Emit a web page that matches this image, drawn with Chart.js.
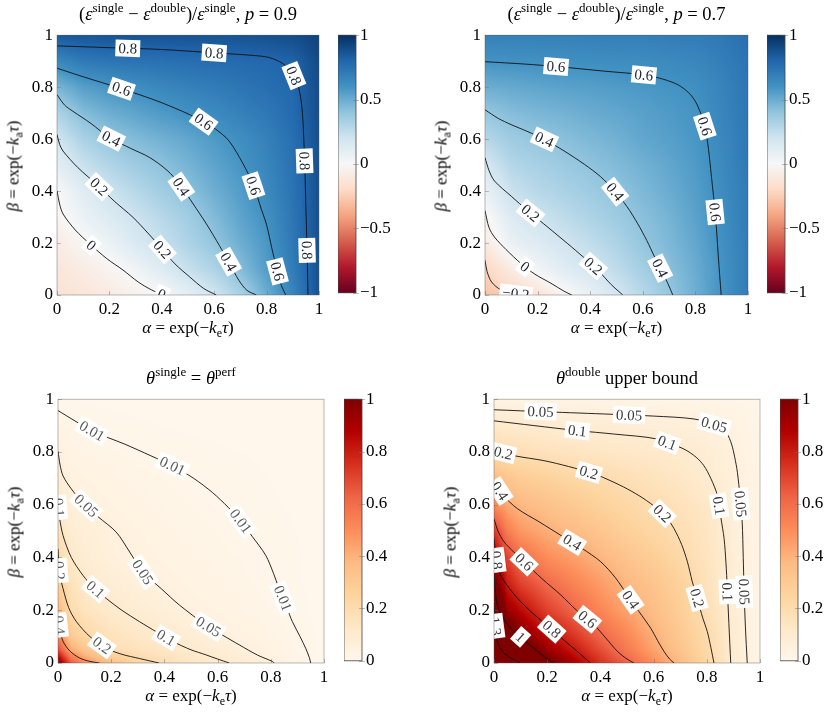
<!DOCTYPE html>
<html><head><meta charset="utf-8">
<script src="https://cdn.jsdelivr.net/npm/chart.js@4.4.1/dist/chart.umd.min.js"></script>
<style>
html,body{margin:0;padding:0;background:#fff;}
#wrap{position:relative;width:830px;height:713px;overflow:hidden;font-family:'Liberation Serif',serif;color:#000;}
canvas{position:absolute;}
.t{position:absolute;white-space:nowrap;font-size:17px;line-height:1;transform:translate(-50%,-50%);}
.t sup{font-size:12px;vertical-align:0;position:relative;top:-7px;}
.t sub{font-size:12px;vertical-align:0;position:relative;top:4px;}
.ttl{font-size:18.5px;}
.ttl sup{font-size:13px;top:-8px;}
.rot{transform:translate(-50%,-50%) rotate(-90deg);}
</style></head>
<body><div id="wrap"></div>
<script>
// ---------------- DATA ----------------
const axisTicks = [0, 0.2, 0.4, 0.6, 0.8, 1];
const diffBarTicks = [-1, -0.5, 0, 0.5, 1];
const thetaBarTicks = [0, 0.2, 0.4, 0.6, 0.8, 1];

// grid nodes (alpha columns, beta rows)
const nodesUniform = [0, 0.1, 0.2, 0.3, 0.4, 0.5, 0.6, 0.7, 0.8, 0.9, 1];
const nodesFine = [0, 0.05, 0.1, 0.2, 0.3, 0.4, 0.5, 0.6, 0.7, 0.8, 0.9, 1];

// Panel A: (eps_single - eps_double)/eps_single, p = 0.9 ; rows = beta (0 -> 1)
const valuesA = [
  [-0.15,-0.12,-0.09,-0.05,-0.005,0.09,0.19,0.32,0.49,0.66,0.88],
  [-0.12,-0.08,-0.03,0.04,0.13,0.23,0.31,0.43,0.56,0.70,0.88],
  [-0.08,-0.015,0.06,0.15,0.23,0.31,0.39,0.49,0.58,0.72,0.88],
  [-0.03,0.06,0.14,0.21,0.28,0.35,0.44,0.53,0.61,0.73,0.88],
  [0.0,0.12,0.21,0.28,0.35,0.41,0.49,0.56,0.64,0.74,0.88],
  [0.10,0.22,0.30,0.36,0.41,0.47,0.53,0.59,0.66,0.75,0.88],
  [0.19,0.32,0.39,0.44,0.48,0.52,0.57,0.62,0.68,0.76,0.88],
  [0.31,0.43,0.49,0.53,0.57,0.605,0.64,0.68,0.72,0.78,0.89],
  [0.46,0.55,0.59,0.62,0.65,0.68,0.70,0.73,0.76,0.79,0.89],
  [0.65,0.71,0.73,0.74,0.75,0.76,0.77,0.78,0.79,0.81,0.90],
  [0.85,0.86,0.87,0.87,0.87,0.87,0.87,0.87,0.88,0.89,0.93]
];
// Panel B: p = 0.7
const valuesB = [
  [-0.30,-0.23,-0.14,-0.03,0.07,0.175,0.28,0.385,0.49,0.60,0.70],
  [-0.22,-0.08,0.03,0.12,0.18,0.26,0.34,0.42,0.50,0.60,0.70],
  [-0.10,0.07,0.13,0.195,0.25,0.31,0.39,0.45,0.52,0.61,0.70],
  [-0.025,0.14,0.205,0.26,0.31,0.36,0.42,0.47,0.54,0.62,0.71],
  [0.07,0.22,0.28,0.32,0.36,0.40,0.45,0.50,0.555,0.63,0.71],
  [0.17,0.29,0.33,0.37,0.405,0.44,0.48,0.52,0.57,0.64,0.72],
  [0.28,0.36,0.39,0.42,0.45,0.48,0.52,0.55,0.585,0.65,0.72],
  [0.385,0.43,0.455,0.475,0.50,0.52,0.545,0.57,0.595,0.66,0.73],
  [0.49,0.51,0.525,0.54,0.55,0.565,0.58,0.595,0.615,0.67,0.73],
  [0.60,0.605,0.61,0.615,0.62,0.625,0.63,0.64,0.655,0.69,0.74],
  [0.68,0.68,0.68,0.68,0.69,0.69,0.69,0.70,0.70,0.72,0.76]
];
// Panel C: theta_single = theta_perf (nodesFine)
const valuesC = [
  [1.0,0.65,0.5,0.35,0.24,0.18,0.14,0.11,0.085,0.053,0.025,0.0],
  [0.7,0.42,0.33,0.195,0.16,0.13,0.102,0.08,0.055,0.035,0.015,0.0],
  [0.55,0.3,0.23,0.16,0.125,0.1,0.08,0.058,0.04,0.026,0.012,0.0],
  [0.38,0.2,0.15,0.108,0.085,0.065,0.048,0.035,0.025,0.015,0.007,0.0],
  [0.28,0.16,0.11,0.08,0.06,0.046,0.034,0.025,0.018,0.011,0.005,0.0],
  [0.22,0.12,0.085,0.055,0.047,0.035,0.026,0.019,0.014,0.0095,0.005,0.0],
  [0.165,0.085,0.07,0.052,0.038,0.028,0.02,0.015,0.0105,0.007,0.004,0.0],
  [0.11,0.065,0.05,0.038,0.029,0.021,0.015,0.011,0.008,0.005,0.003,0.0],
  [0.08,0.046,0.038,0.028,0.02,0.015,0.01,0.008,0.006,0.004,0.002,0.0],
  [0.05,0.03,0.024,0.017,0.0105,0.008,0.006,0.005,0.004,0.003,0.0015,0.0],
  [0.025,0.015,0.0097,0.007,0.005,0.004,0.003,0.0025,0.002,0.0015,0.001,0.0],
  [0.005,0.004,0.003,0.002,0.002,0.001,0.001,0.001,0.001,0.0,0.0,0.0]
];
// Panel D: theta_double upper bound (nodesFine)
const valuesD = [
  [1.8,1.5,1.3,1.06,0.9,0.75,0.63,0.5,0.37,0.24,0.09,0.02],
  [1.55,1.35,1.17,0.93,0.81,0.68,0.56,0.44,0.33,0.22,0.09,0.02],
  [1.45,1.2,1.0,0.85,0.74,0.62,0.52,0.41,0.31,0.21,0.088,0.02],
  [1.32,0.93,0.85,0.71,0.62,0.52,0.44,0.36,0.28,0.18,0.085,0.02],
  [1.08,0.80,0.71,0.61,0.53,0.46,0.385,0.33,0.26,0.16,0.08,0.02],
  [0.9,0.7,0.6,0.5,0.45,0.39,0.33,0.28,0.22,0.15,0.075,0.02],
  [0.74,0.55,0.47,0.41,0.37,0.32,0.27,0.23,0.185,0.14,0.07,0.02],
  [0.51,0.42,0.38,0.34,0.30,0.26,0.225,0.195,0.16,0.125,0.065,0.02],
  [0.37,0.32,0.29,0.26,0.23,0.205,0.18,0.155,0.13,0.095,0.06,0.02],
  [0.21,0.195,0.18,0.16,0.145,0.135,0.125,0.115,0.103,0.08,0.05,0.02],
  [0.115,0.108,0.103,0.095,0.088,0.082,0.077,0.072,0.065,0.056,0.04,0.015],
  [0.03,0.03,0.03,0.028,0.026,0.025,0.024,0.022,0.02,0.018,0.014,0.008]
];

// Contour lines [alpha, beta] and label anchors
const contA_080 = [[0,0.959],[0.2,0.952],[0.4,0.945],[0.6,0.932],[0.75,0.922],[0.81,0.914],[0.86,0.892],[0.9,0.855],[0.922,0.8],[0.935,0.72],[0.942,0.6],[0.947,0.45],[0.951,0.3],[0.955,0.15],[0.958,0]];
const labA_080 = [[0.27,0.946],[0.6,0.934],[0.905,0.845],[0.947,0.516],[0.953,0.172]];
const contA_060 = [[0,0.873],[0.1,0.84],[0.24,0.796],[0.4,0.74],[0.557,0.669],[0.646,0.605],[0.697,0.529],[0.748,0.427],[0.78,0.33],[0.8,0.27],[0.82,0.18],[0.837,0.108],[0.855,0.04],[0.873,0]];
const labA_060 = [[0.247,0.796],[0.561,0.669],[0.747,0.42],[0.838,0.09]];
const contA_040 = [[0,0.771],[0.03,0.73],[0.061,0.707],[0.13,0.66],[0.201,0.605],[0.28,0.565],[0.354,0.529],[0.42,0.48],[0.468,0.427],[0.52,0.35],[0.57,0.274],[0.62,0.19],[0.659,0.121],[0.695,0.055],[0.725,0.018],[0.761,0]];
const labA_040 = [[0.209,0.605],[0.47,0.414],[0.654,0.127]];
const contA_020 = [[0,0.618],[0.01,0.58],[0.023,0.554],[0.08,0.49],[0.15,0.427],[0.22,0.36],[0.29,0.299],[0.35,0.235],[0.405,0.172],[0.45,0.12],[0.506,0.07],[0.56,0.025],[0.608,0]];
const labA_020 = [[0.158,0.414],[0.40,0.173]];
const contA_000 = [[0,0.401],[0.01,0.35],[0.023,0.312],[0.07,0.25],[0.125,0.197],[0.19,0.14],[0.252,0.096],[0.31,0.05],[0.36,0.02],[0.405,0]];
const labA_000 = [[0.132,0.192],[0.40,0.004]];

const contB_060 = [[0,0.898],[0.15,0.889],[0.277,0.879],[0.45,0.862],[0.607,0.847],[0.68,0.83],[0.734,0.809],[0.775,0.778],[0.8,0.745],[0.82,0.7],[0.836,0.65],[0.85,0.56],[0.86,0.465],[0.869,0.38],[0.877,0.299],[0.887,0.15],[0.898,0]];
const labB_060 = [[0.27,0.878],[0.604,0.845],[0.836,0.65],[0.871,0.319]];
const contB_040 = [[0,0.713],[0.05,0.68],[0.099,0.656],[0.16,0.63],[0.226,0.599],[0.3,0.555],[0.378,0.503],[0.44,0.455],[0.492,0.401],[0.54,0.34],[0.581,0.274],[0.615,0.21],[0.645,0.146],[0.675,0.085],[0.695,0.045],[0.714,0]];
const labB_040 = [[0.226,0.599],[0.499,0.401],[0.66,0.1]];
const contB_020 = [[0,0.529],[0.015,0.48],[0.036,0.439],[0.1,0.38],[0.162,0.325],[0.24,0.26],[0.315,0.197],[0.375,0.145],[0.429,0.096],[0.48,0.04],[0.524,0]];
const labB_020 = [[0.175,0.318],[0.397,0.095]];
const contB_000 = [[0,0.325],[0.015,0.26],[0.036,0.223],[0.08,0.175],[0.137,0.121],[0.19,0.08],[0.251,0.045],[0.3,0.015],[0.33,0]];
const labB_000 = [[0.147,0.102]];
const contB_m020 = [[0,0.134],[0.008,0.09],[0.025,0.05],[0.06,0.02],[0.11,0.006],[0.16,0]];
const labB_m020 = [[0.118,0.01]];

const contC_001 = [[0,0.957],[0.06,0.92],[0.131,0.878],[0.25,0.83],[0.35,0.785],[0.431,0.747],[0.51,0.70],[0.581,0.646],[0.64,0.59],[0.681,0.546],[0.73,0.48],[0.781,0.408],[0.81,0.34],[0.831,0.282],[0.86,0.21],[0.881,0.157],[0.91,0.1],[0.931,0.056],[0.945,0.02],[0.95,0]];
const labC_001 = [[0.131,0.885],[0.431,0.749],[0.681,0.533],[0.844,0.245]];
const contC_005 = [[0,0.803],[0.008,0.75],[0.019,0.709],[0.05,0.66],[0.094,0.608],[0.15,0.555],[0.219,0.496],[0.27,0.42],[0.319,0.345],[0.39,0.28],[0.456,0.22],[0.556,0.144],[0.62,0.105],[0.681,0.069],[0.75,0.03],[0.806,0.006],[0.8125,0]];
const labC_005 = [[0.10,0.59],[0.319,0.345],[0.5625,0.132]];
const contC_010 = [[0,0.62],[0.006,0.55],[0.019,0.483],[0.05,0.4],[0.094,0.332],[0.135,0.285],[0.181,0.245],[0.24,0.2],[0.306,0.157],[0.37,0.118],[0.431,0.082],[0.5,0.05],[0.556,0.031],[0.6,0.015],[0.644,0]];
const labC_010 = [[0.006,0.59],[0.144,0.282],[0.394,0.075]];
const contC_020 = [[0,0.433],[0.006,0.34],[0.019,0.282],[0.04,0.21],[0.069,0.157],[0.12,0.1],[0.181,0.056],[0.24,0.033],[0.306,0.017],[0.38,0]];
const labC_020 = [[0.008,0.351],[0.1625,0.063]];
const contC_040 = [[0,0.182],[0.006,0.13],[0.019,0.082],[0.045,0.045],[0.081,0.019],[0.12,0.006],[0.156,0]];
const labC_040 = [[0.006,0.144]];

const contD_005 = [[0,0.96],[0.2,0.952],[0.439,0.943],[0.6,0.936],[0.752,0.925],[0.84,0.9],[0.875,0.87],[0.893,0.83],[0.905,0.78],[0.915,0.723],[0.925,0.63],[0.933,0.535],[0.937,0.4],[0.94,0.283],[0.945,0.14],[0.952,0]];
const labD_005 = [[0.175,0.952],[0.508,0.94],[0.827,0.902],[0.937,0.604],[0.942,0.27]];
const contD_010 = [[0,0.918],[0.15,0.9],[0.313,0.881],[0.45,0.868],[0.614,0.849],[0.714,0.811],[0.76,0.78],[0.789,0.748],[0.815,0.7],[0.84,0.635],[0.853,0.55],[0.865,0.472],[0.872,0.38],[0.877,0.283],[0.883,0.15],[0.89,0]];
const labD_010 = [[0.313,0.881],[0.652,0.836],[0.852,0.597],[0.88,0.27]];
const contD_020 = [[0,0.805],[0.08,0.785],[0.188,0.767],[0.28,0.745],[0.376,0.717],[0.44,0.69],[0.501,0.66],[0.56,0.625],[0.614,0.585],[0.65,0.55],[0.677,0.509],[0.705,0.45],[0.727,0.384],[0.745,0.31],[0.764,0.245],[0.785,0.17],[0.802,0.119],[0.815,0.06],[0.827,0]];
const labD_020 = [[0.035,0.795],[0.357,0.723],[0.633,0.567],[0.758,0.245]];
const contD_040 = [[0,0.686],[0.03,0.64],[0.088,0.585],[0.17,0.535],[0.251,0.484],[0.33,0.435],[0.401,0.384],[0.455,0.325],[0.501,0.258],[0.545,0.195],[0.589,0.132],[0.615,0.085],[0.639,0.044],[0.66,0.015],[0.677,0]];
const labD_040 = [[0.019,0.65],[0.294,0.457],[0.514,0.24]];
const contD_060 = [[0,0.547],[0.015,0.5],[0.038,0.459],[0.075,0.42],[0.113,0.384],[0.18,0.32],[0.251,0.258],[0.31,0.2],[0.376,0.145],[0.42,0.095],[0.464,0.044],[0.5,0.015],[0.526,0]];
const labD_060 = [[0.11,0.38],[0.338,0.15]];
const contD_080 = [[0,0.472],[0.01,0.39],[0.025,0.333],[0.06,0.28],[0.1,0.233],[0.155,0.18],[0.213,0.132],[0.265,0.085],[0.313,0.044],[0.34,0.02],[0.363,0]];
const labD_080 = [[0.01,0.39],[0.21,0.12]];
const contD_100 = [[0,0.333],[0.004,0.28],[0.0125,0.22],[0.035,0.17],[0.063,0.132],[0.11,0.09],[0.163,0.044],[0.2,0.015],[0.226,0]];
const labD_100 = [[0.11,0.11]];
const contD_130 = [[0,0.22],[0.004,0.15],[0.0125,0.082],[0.035,0.04],[0.063,0.019],[0.1,0]];
const labD_130 = [[0.008,0.14]];

// ---------------- STYLE / LAYOUT ----------------
const RDBU = ['#67001f','#b2182b','#d6604d','#f4a582','#fddbc7','#f7f7f7','#d1e5f0','#92c5de','#4393c3','#2166ac','#053061'];
const ORRD = ['#fff7ec','#fee8c8','#fdd49e','#fdbb84','#fc8d59','#ef6548','#d7301f','#b30000','#7f0000'];
const FONT_FAMILY = "'Liberation Serif', 'DejaVu Serif', serif";
const TICK_SIZE = 17;
const LABEL_SIZE = 15;

function hexToRgb(h){ return [parseInt(h.slice(1,3),16),parseInt(h.slice(3,5),16),parseInt(h.slice(5,7),16)]; }
function makeMap(stops){
  const rgb = stops.map(hexToRgb);
  return function(t){
    t = Math.max(0, Math.min(1, t));
    const p = t*(rgb.length-1), i = Math.min(rgb.length-2, Math.floor(p)), f = p - i;
    const a = rgb[i], b = rgb[i+1];
    return [a[0]+(b[0]-a[0])*f, a[1]+(b[1]-a[1])*f, a[2]+(b[2]-a[2])*f];
  };
}
const mapRdBu = makeMap(RDBU), mapOrRd = makeMap(ORRD);

function locate(nodes, v){
  v = Math.max(nodes[0], Math.min(nodes[nodes.length-1], v));
  let i = 0;
  while (i < nodes.length-2 && v > nodes[i+1]) i++;
  return [i, (v-nodes[i])/(nodes[i+1]-nodes[i])];
}
function fmt(v){
  const s = String(Math.round(v*100)/100);
  return v < 0 ? '\u2212' + s.slice(1) : s;
}

const panels = [
  { L:57, T:35, R:319, B:297, xs:nodesUniform, ys:nodesUniform, values:valuesA, cmap:mapRdBu, vmin:-1, vmax:1,
    bar:{L:338, R:356, ticks:diffBarTicks},
    contours:[ ['0.8',contA_080,labA_080], ['0.6',contA_060,labA_060], ['0.4',contA_040,labA_040], ['0.2',contA_020,labA_020], ['0',contA_000,labA_000] ],
    title:'(<i>ε</i><sup>single</sup> − <i>ε</i><sup>double</sup>)/<i>ε</i><sup>single</sup>, <i>p</i> = 0.9', labelColor:'#1b2330' },
  { L:485, T:35, R:748, B:297, xs:nodesUniform, ys:nodesUniform, values:valuesB, cmap:mapRdBu, vmin:-1, vmax:1,
    bar:{L:767, R:785, ticks:diffBarTicks},
    contours:[ ['0.6',contB_060,labB_060], ['0.4',contB_040,labB_040], ['0.2',contB_020,labB_020], ['0',contB_000,labB_000], ['\u22120.2',contB_m020,labB_m020] ],
    title:'(<i>ε</i><sup>single</sup> − <i>ε</i><sup>double</sup>)/<i>ε</i><sup>single</sup>, <i>p</i> = 0.7', labelColor:'#1b2330' },
  { L:58, T:399, R:324, B:665, xs:nodesFine, ys:nodesFine, values:valuesC, cmap:mapOrRd, vmin:0, vmax:1,
    bar:{L:344, R:362, ticks:thetaBarTicks},
    contours:[ ['0.01',contC_001,labC_001], ['0.05',contC_005,labC_005], ['0.1',contC_010,labC_010], ['0.2',contC_020,labC_020], ['0.4',contC_040,labC_040] ],
    title:'<i>θ</i><sup>single</sup> = <i>θ</i><sup>perf</sup>', labelColor:'#5a5a5a' },
  { L:494, T:399, R:760, B:665, xs:nodesFine, ys:nodesFine, values:valuesD, cmap:mapOrRd, vmin:0, vmax:1,
    bar:{L:780, R:798, ticks:thetaBarTicks},
    contours:[ ['0.05',contD_005,labD_005], ['0.1',contD_010,labD_010], ['0.2',contD_020,labD_020], ['0.4',contD_040,labD_040], ['0.6',contD_060,labD_060], ['0.8',contD_080,labD_080], ['1',contD_100,labD_100], ['1.3',contD_130,labD_130] ],
    title:'<i>θ</i><sup>double</sup> upper bound', labelColor:'#3a3a3a' }
];

const wrap = document.getElementById('wrap');
function addText(html, x, y, cls){
  const d = document.createElement('div');
  d.className = 't' + (cls ? ' ' + cls : '');
  d.innerHTML = html; d.style.left = x + 'px'; d.style.top = y + 'px';
  wrap.appendChild(d);
}

function heatmapPlugin(p){
  return {
    id: 'heatmap',
    beforeDatasetsDraw(chart){
      const {ctx, chartArea:{left, top, right, bottom}, scales:{x, y}} = chart;
      const w = Math.round(right-left), h = Math.round(bottom-top);
      const off = document.createElement('canvas'); off.width = w; off.height = h;
      const octx = off.getContext('2d'); const img = octx.createImageData(w, h);
      const colLoc = [];
      for (let i = 0; i < w; i++) colLoc.push(locate(p.xs, x.getValueForPixel(left+i+0.5)));
      for (let j = 0; j < h; j++){
        const [rj, fy] = locate(p.ys, y.getValueForPixel(top+j+0.5));
        const r0 = p.values[rj], r1 = p.values[rj+1];
        for (let i = 0; i < w; i++){
          const [ci, fx] = colLoc[i];
          const v0 = r0[ci]*(1-fx) + r0[ci+1]*fx, v1 = r1[ci]*(1-fx) + r1[ci+1]*fx;
          const v = v0*(1-fy) + v1*fy;
          const c = p.cmap((v-p.vmin)/(p.vmax-p.vmin));
          const k = (j*w+i)*4;
          img.data[k] = c[0]; img.data[k+1] = c[1]; img.data[k+2] = c[2]; img.data[k+3] = 255;
        }
      }
      octx.putImageData(img, 0, 0);
      ctx.drawImage(off, left, top);
      // inner tick marks
      ctx.save();
      ctx.strokeStyle = 'rgba(110,110,110,0.55)'; ctx.lineWidth = 0.8;
      axisTicks.forEach(v => {
        const px = Math.round(x.getPixelForValue(v)) + 0.5;
        const py = Math.round(y.getPixelForValue(v)) + 0.5;
        ctx.beginPath(); ctx.moveTo(px, bottom); ctx.lineTo(px, bottom-4); ctx.stroke();
        ctx.beginPath(); ctx.moveTo(left, py); ctx.lineTo(left+4, py); ctx.stroke();
      });
      ctx.restore();
    },
    afterDatasetsDraw(chart){
      const {ctx, chartArea, scales:{x, y}} = chart;
      ctx.save();
      ctx.beginPath(); ctx.rect(chartArea.left, chartArea.top, chartArea.right-chartArea.left, chartArea.bottom-chartArea.top); ctx.clip();
      ctx.font = LABEL_SIZE + 'px ' + FONT_FAMILY;
      p.contours.forEach((c, di) => {
        const meta = chart.getDatasetMeta(di);
        const pts = meta.data.map(e => [e.x, e.y]);
        c[2].forEach(([a, b]) => {
          const qx = x.getPixelForValue(a), qy = y.getPixelForValue(b);
          let best = null;
          for (let k = 0; k < pts.length-1; k++){
            const [x0, y0] = pts[k], [x1, y1] = pts[k+1];
            const dx = x1-x0, dy = y1-y0, L2 = dx*dx+dy*dy || 1;
            let t = ((qx-x0)*dx + (qy-y0)*dy)/L2; t = Math.max(0, Math.min(1, t));
            const sx = x0+t*dx, sy = y0+t*dy, d = (sx-qx)**2 + (sy-qy)**2;
            if (!best || d < best.d) best = {d, sx, sy, dx, dy};
          }
          let ang = Math.atan2(best.dy, best.dx);
          if (ang > Math.PI/2 + 1e-6) ang -= Math.PI;
          if (ang <= -Math.PI/2 + 1e-6) ang += Math.PI;
          const tw = ctx.measureText(c[0]).width;
          ctx.save();
          ctx.translate(best.sx, best.sy); ctx.rotate(ang);
          ctx.fillStyle = '#fff';
          ctx.fillRect(-tw/2-3, -8.5, tw+6, 17);
          ctx.fillStyle = p.labelColor; ctx.textAlign = 'center'; ctx.textBaseline = 'middle';
          ctx.fillText(c[0], 0, 1);
          ctx.restore();
        });
      });
      ctx.restore();
      ctx.save();
      ctx.strokeStyle = 'rgba(90,90,90,0.6)'; ctx.lineWidth = 0.7;
      ctx.strokeRect(chartArea.left, chartArea.top, chartArea.right-chartArea.left, chartArea.bottom-chartArea.top);
      ctx.restore();
    }
  };
}

function makePanel(p){
  const padR = 14, padT = 12, axW = 50, axH = 26;
  const cw = (p.R-p.L) + axW + padR, ch = (p.B-p.T) + padT + axH;
  const cv = document.createElement('canvas');
  cv.width = cw; cv.height = ch; cv.style.width = cw+'px'; cv.style.height = ch+'px';
  wrap.appendChild(cv);
  const tickFont = {family: FONT_FAMILY, size: TICK_SIZE};
  const chart = new Chart(cv, {
    type: 'scatter',
    data: { datasets: p.contours.map(c => ({
      label: c[0],
      data: c[1].map(([a, b]) => ({x: a, y: b})),
      showLine: true, borderColor: '#111', borderWidth: 0.9,
      pointRadius: 0, pointHoverRadius: 0, tension: 0.3, fill: false
    })) },
    options: {
      animation: false, responsive: false, events: [],
      layout: { padding: { top: padT, right: padR, left: 0, bottom: 0 } },
      plugins: { legend: {display: false}, tooltip: {enabled: false} },
      scales: {
        x: { type: 'linear', min: 0, max: 1,
             afterBuildTicks: s => { s.ticks = axisTicks.map(v => ({value: v})); },
             ticks: { font: tickFont, color: '#000', padding: 4, maxRotation: 0, autoSkip: false, callback: v => fmt(v) },
             grid: { display: false, drawTicks: false }, border: { display: false },
             afterFit: s => { s.height = axH; } },
        y: { type: 'linear', min: 0, max: 1,
             afterBuildTicks: s => { s.ticks = axisTicks.map(v => ({value: v})); },
             ticks: { font: tickFont, color: '#000', padding: 4, autoSkip: false, callback: v => fmt(v) },
             grid: { display: false, drawTicks: false }, border: { display: false },
             afterFit: s => { s.width = axW; } }
      }
    },
    plugins: [heatmapPlugin(p)]
  });
  const ca = chart.chartArea;
  cv.style.left = (p.L - ca.left) + 'px';
  cv.style.top = (p.T - ca.top) + 'px';
}

function colorbarPlugin(p){
  return {
    id: 'colorbar',
    afterDraw(chart){
      const {ctx, chartArea:{left, top, right, bottom}, scales:{y}} = chart;
      for (let py = Math.floor(top); py < bottom; py++){
        const v = y.getValueForPixel(py + 0.5);
        const c = p.cmap((v-p.vmin)/(p.vmax-p.vmin));
        ctx.fillStyle = 'rgb(' + c.map(Math.round).join(',') + ')';
        ctx.fillRect(left, py, right-left, 1);
      }
      ctx.save();
      ctx.strokeStyle = 'rgba(120,120,120,0.7)'; ctx.lineWidth = 0.7;
      p.bar.ticks.forEach(v => {
        const py = Math.round(y.getPixelForValue(v)) + 0.5;
        ctx.beginPath(); ctx.moveTo(right-3, py); ctx.lineTo(right+3, py); ctx.stroke();
      });
      ctx.strokeStyle = '#444'; ctx.lineWidth = 0.8;
      ctx.strokeRect(left, top, right-left, bottom-top);
      ctx.restore();
    }
  };
}

function makeColorbar(p){
  const padT = 12, axW = 50, w = p.bar.R - p.bar.L;
  const cw = w + axW, ch = (p.B - p.T) + 2*padT;
  const cv = document.createElement('canvas');
  cv.width = cw; cv.height = ch; cv.style.width = cw+'px'; cv.style.height = ch+'px';
  wrap.appendChild(cv);
  const chart = new Chart(cv, {
    type: 'scatter',
    data: { datasets: [] },
    options: {
      animation: false, responsive: false, events: [],
      layout: { padding: { top: padT, bottom: padT, left: 0, right: 0 } },
      plugins: { legend: {display: false}, tooltip: {enabled: false} },
      scales: {
        x: { display: false, min: 0, max: 1 },
        y: { position: 'right', min: p.vmin, max: p.vmax,
             afterBuildTicks: s => { s.ticks = p.bar.ticks.map(v => ({value: v})); },
             ticks: { font: {family: FONT_FAMILY, size: TICK_SIZE}, color: '#000', padding: 4, autoSkip: false, callback: v => fmt(v) },
             grid: { display: false, drawTicks: false }, border: { display: false },
             afterFit: s => { s.width = axW; } }
      }
    },
    plugins: [colorbarPlugin(p)]
  });
  const ca = chart.chartArea;
  cv.style.left = (p.bar.L - ca.left) + 'px';
  cv.style.top = (p.T - ca.top) + 'px';
}

panels.forEach(p => {
  makePanel(p);
  makeColorbar(p);
  const cx = (p.L + p.R)/2, cy = (p.T + p.B)/2;
  addText(p.title, cx, p.T - 21, 'ttl');
  addText('<i>α</i> = exp(−<i>k</i><sub>e</sub><i>τ</i>)', cx, p.B + 30);
  addText('<i>β</i> = exp(−<i>k</i><sub>a</sub><i>τ</i>)', p.L - 44, cy, 'rot');
});
</script></body></html>
